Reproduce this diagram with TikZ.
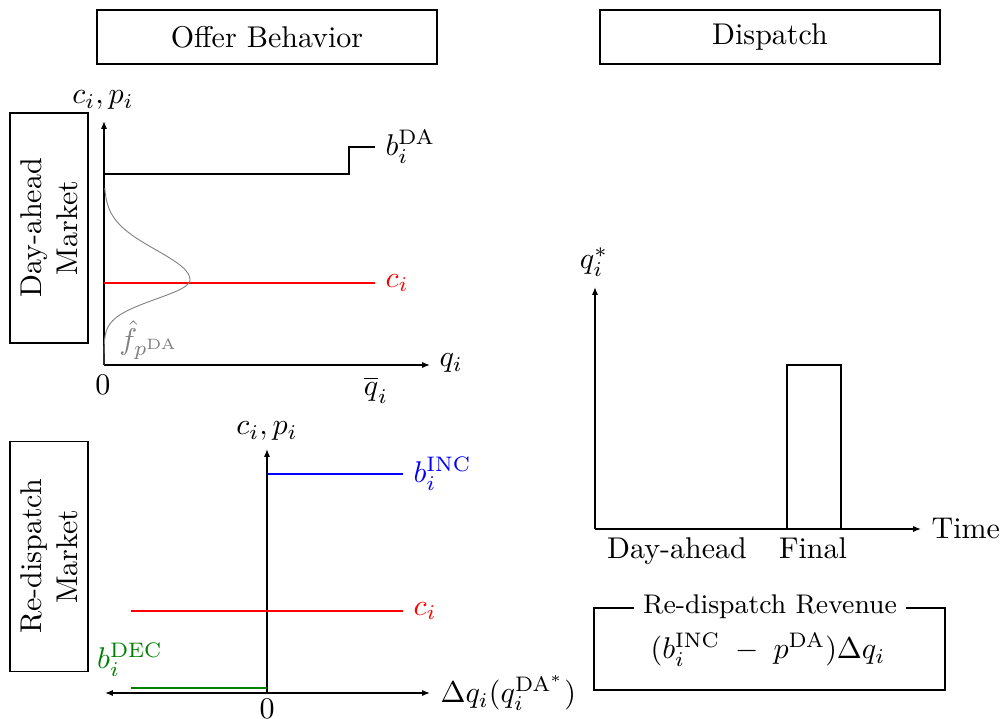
\documentclass[tikz,border=0pt]{standalone}
\usetikzlibrary{arrows.meta}
\begin{document}
\begin{tikzpicture}[x=0.33333pt,y=-0.33333pt,
  axis/.style={line width=0.4pt,-{Latex[length=2.6pt,width=2pt]}},
  daxis/.style={line width=0.4pt,{Latex[length=2.6pt,width=2pt]}-{Latex[length=2.6pt,width=2pt]}},
  curve/.style={line width=0.6pt},
  titlebox/.style={draw,line width=0.4pt,minimum width=113.3pt,minimum height=18pt,inner sep=0pt},
  sidebox/.style={draw,line width=0.4pt,rotate=90,minimum width=76.7pt,minimum height=26pt,inner sep=0pt,align=center},
  lbl/.style={inner sep=0pt}
]
\useasboundingbox (0,0) rectangle (1001,719);

% titles
\node[titlebox] (offer) at (267,37) {Offer Behavior};
\node[titlebox] (disp) at (770,37) {Dispatch};
\node[sidebox] (dam) at (49,228) {Day-ahead\\Market};
\node[sidebox] (rdm) at (49,556.5) {Re-dispatch\\Market};

% ---- top-left plot
\coordinate (O1) at (104,365);
\coordinate (Y1) at (104,121);
\coordinate (X1) at (430,365);
\draw[axis] (O1) -- (Y1);
\draw[axis] (O1) -- (X1);
\node[lbl] (y1lab) at (103,100) {$c_i, p_i$};
\node[lbl,anchor=west] (x1lab) at (439,363) {$q_i$};
\node[lbl] (zero1) at (103,385) {$0$};
\node[lbl] (qbar) at (376,390) {$\overline{q}_i$};
\coordinate (bda0) at (104,174);
\coordinate (bda1) at (349,174);
\coordinate (bda2) at (349,147);
\coordinate (bda3) at (375,147);
\draw[curve] (bda0) -- (bda1) -- (bda2) -- (bda3);
\node[anchor=west] (bdalab) at (bda3) {$b_i^{\mathrm{DA}}$};
\coordinate (c1a) at (104,283);
\coordinate (c1b) at (375,283);
\draw[curve,red] (c1a) -- (c1b);
\node[anchor=west,red] (c1lab) at (c1b) {$c_i$};
\draw[gray,line width=0.3pt] plot[domain=188:280,samples=70] ({104+86*exp(-0.5*((\x-280)/30)^2)},\x);
\draw[gray,line width=0.3pt] plot[domain=280:365,samples=70] ({104+86*exp(-0.5*((\x-280)/19)^2)},\x);
\node[lbl,gray] (flab) at (149,340) {$\hat{f}_{p^{\mathrm{DA}}}$};

% ---- bottom-left plot
\coordinate (O2) at (267,693);
\coordinate (Y2) at (267,449);
\coordinate (XL2) at (105,693);
\coordinate (XR2) at (430,693);
\draw[axis] (O2) -- (Y2);
\draw[daxis] (XL2) -- (XR2);
\node[lbl] (y2lab) at (267,431) {$c_i, p_i$};
\node[lbl] (zero2) at (267,709) {$0$};
\node[anchor=west] (x2lab) at (XR2) {$\Delta q_i(q_i^{\mathrm{DA}^*})$};
\coordinate (inc0) at (267,474);
\coordinate (inc1) at (403,474);
\draw[curve,blue] (inc0) -- (inc1);
\node[anchor=west,blue] (inclab) at (inc1) {$b_i^{\mathrm{INC}}$};
\coordinate (c2a) at (131,611);
\coordinate (c2b) at (403,611);
\draw[curve,red] (c2a) -- (c2b);
\node[anchor=west,red] (c2lab) at (c2b) {$c_i$};
\coordinate (dec0) at (131,688);
\coordinate (dec1) at (267,688);
\draw[curve,green!50!black] (dec0) -- (dec1);
\node[lbl,green!50!black] (declab) at (130,660) {$b_i^{\mathrm{DEC}}$};

% ---- right plot
\coordinate (O3) at (595,529);
\coordinate (Y3) at (595,287);
\coordinate (X3) at (921,529);
\draw[axis] (O3) -- (Y3);
\draw[axis] (O3) -- (X3);
\node[lbl] (y3lab) at (594,262) {$q_i^*$};
\node[anchor=west] (x3lab) at (X3) {Time};
\draw[line width=0.4pt] (787,529) rectangle (841,365);
\node[lbl,anchor=base] (dalab) at (677,558) {Day-ahead};
\node[lbl,anchor=base] (finlab) at (813,558) {Final};

% ---- revenue box
\draw[line width=0.4pt] (594,608) rectangle (945,690);
\node[fill=white,inner xsep=3pt,inner ysep=1pt,font=\small] (revt) at (770,607) {Re-dispatch Revenue};
\node[lbl] (revf) at (768,650) {$(b_i^{\mathrm{INC}} \; - \; p^{\mathrm{DA}})\Delta q_i$};
\end{tikzpicture}
\end{document}
